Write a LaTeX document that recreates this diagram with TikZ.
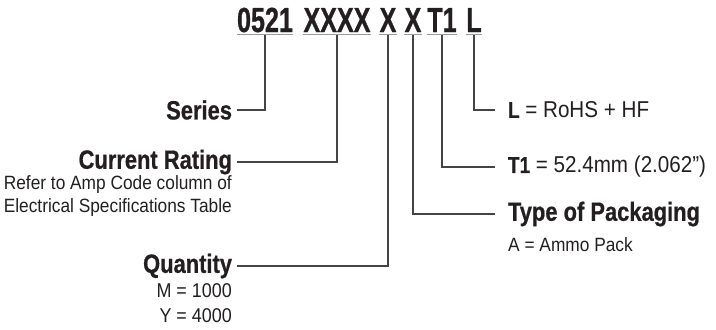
\documentclass[tikz,border=0pt]{standalone}
\usepackage{fontspec}
\setmainfont[FakeStretch=0.9]{Liberation Sans}
\newfontfamily\titlefont[FakeStretch=0.72,BoldFeatures={FakeBold=0.7}]{Liberation Sans}
\newfontfamily\labfont[FakeStretch=0.83,BoldFeatures={FakeBold=0.6}]{Liberation Sans}
\usetikzlibrary{calc}
\definecolor{linec}{HTML}{444444}
\definecolor{ulc}{HTML}{9A9A9A}
\definecolor{txt}{HTML}{231F20}
\begin{document}
\begin{tikzpicture}[x=1bp,y=-1bp,
  code/.style={font=\titlefont\bfseries\fontsize{35}{35}\selectfont, inner sep=0pt, anchor=base, text=txt},
  lab/.style={font=\labfont\bfseries\fontsize{26.5}{26.5}\selectfont, inner sep=0pt, text=txt},
  subtxt/.style={font=\fontsize{19.3}{23}\selectfont, inner sep=0pt, text=txt},
  qtysub/.style={font=\fontsize{20}{25}\selectfont, inner sep=0pt, text=txt},
  val/.style={font=\fontsize{23}{23}\selectfont, inner sep=0pt, text=txt},
  leader/.style={draw=linec, line width=1.1bp},
  uline/.style={draw=ulc, line width=1.4bp}]
\path[use as bounding box] (0,0) rectangle (716,329);

% part number
\node[code] (c1) at (265,32) {0521};
\node[code] (c2) at (337,32) {XXXX};
\node[code] (c3) at (388,32) {X};
\node[code] (c4) at (413,32) {X};
\node[code] (c5) at (442,32) {T1};
\node[code] (c6) at (474,32) {L};
\foreach \n in {c1,c2,c3,c4,c5,c6}{
  \draw[uline] ($(\n.base west)+(0,2.5)$) -- ($(\n.base east)+(0,2.5)$);
  \coordinate (\n u) at ($(\n.base)+(0,3.2)$);
}

% left labels
\node[lab, anchor=east, outer xsep=5bp] (series) at (237,110) {Series};
\node[lab, anchor=east, outer xsep=5bp] (rating) at (237,162) {Current Rating};
\node[subtxt, anchor=north east, align=right] (ratingsub) at (232,175)
  {Refer to Amp Code column of\\Electrical Specifications Table};
\node[lab, anchor=east, outer xsep=5bp] (qty) at (237,266) {Quantity};
\node[qtysub, anchor=north east, align=right] (qtyval) at (232,283) {M = 1000\\Y = 4000};

% right labels
\node[val, anchor=west, outer xsep=13bp] (lf) at (495,110) {{\labfont\bfseries L} = RoHS + HF};
\node[val, anchor=west, outer xsep=13bp] (t1) at (495,167) {{\labfont\bfseries T1} = 52.4mm (2.062”)};
\node[lab, anchor=west, outer xsep=13bp] (pack) at (495,214) {Type of Packaging};
\node[subtxt, anchor=north west] (packval) at (508,237) {A = Ammo Pack};

% leaders
\draw[leader] (c1u) |- (series.east);
\draw[leader] (c2u) |- (rating.east);
\draw[leader] (c3u) |- (qty.east);
\draw[leader] (c4u) |- (pack.west);
\draw[leader] (c5u) |- (t1.west);
\draw[leader] (c6u) |- (lf.west);
\end{tikzpicture}
\end{document}
